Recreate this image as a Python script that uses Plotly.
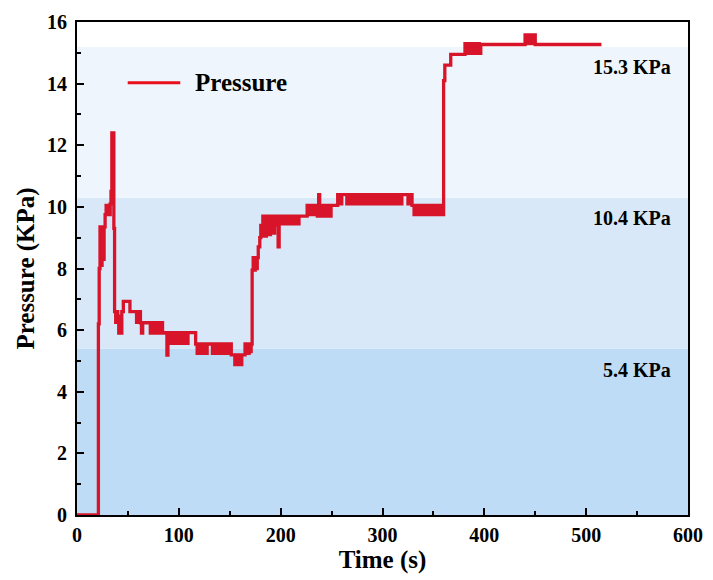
import plotly.graph_objects as go

# ---- data (time in s, pressure in KPa), step signal ----
time_s = [0, 21, 21.8, 22.6, 23.6, 24.6, 25.6, 26.6, 27.6, 28.6, 29.6, 30.6, 31.6, 32.6, 33.4, 34.2,
          36.2, 36.9, 38, 39, 40, 41, 42, 43, 44, 45.5, 52, 58.5, 59.5, 60.5, 61.5, 62.3, 63.3, 64.5,
          72, 74, 76, 78, 80, 82, 84, 86, 88.3, 89.3, 91, 93, 95, 97, 99, 101, 103, 105, 107, 109,
          116.5, 118, 119.5, 120.5, 122, 123, 124.5, 127, 127.8, 133, 134.5, 135.5, 136.5, 139, 140.5,
          141.5, 142.5, 144, 145.5, 146.5, 148, 149, 150.5, 151.5, 155, 156, 157.5, 159, 160.5, 161.8,
          165, 166, 167, 168, 169, 170, 171, 172, 173, 174, 175, 176, 177, 178, 179.5, 180.5, 181.5,
          182.5, 184, 186, 188, 190, 192, 194, 196, 197.5, 198.5, 200, 202, 204, 206, 208, 210, 212,
          214, 216, 218, 226, 228, 230, 232, 234, 236, 237.3, 238.3, 239.5, 241.5, 243.5, 245.5, 247.5,
          249.5, 256, 258, 260, 265, 267, 269, 271, 273, 275, 277, 279, 281, 283, 285, 287, 289, 291,
          293, 295, 297, 299, 301, 303, 305, 307, 309, 311, 313, 315, 317, 319, 325, 327, 329, 331,
          333, 335, 337, 339, 341, 343, 345, 347, 349, 351, 353, 355, 357, 359, 360, 361.2, 367, 381,
          383, 385, 387, 389, 391, 393, 395, 396.5, 440, 441.5, 443, 444.5, 446, 447.5, 449, 450, 515]
pressure = [0, 6.2, 8.0, 9.35, 8.1, 9.35, 8.3, 9.35, 9.75, 10.05, 9.75, 10.05, 9.75, 10.1, 10.5, 12.4,
            9.3, 6.6, 6.25, 6.6, 6.3, 5.9, 6.45, 5.9, 6.6, 6.93, 6.6, 6.25, 6.6, 6.25, 6.6, 6.24, 5.9, 6.24,
            5.9, 6.24, 5.9, 6.24, 5.9, 6.24, 5.9, 5.92, 5.19, 5.92, 5.57, 5.92, 5.57, 5.92, 5.57, 5.92, 5.57, 5.92, 5.57, 5.92,
            5.55, 5.25, 5.55, 5.25, 5.55, 5.25, 5.55, 5.25, 5.55, 5.25, 5.55, 5.25, 5.55, 5.25, 5.55,
            5.25, 5.55, 5.25, 5.55, 5.25, 5.55, 5.25, 5.55, 5.2, 4.88, 5.2, 4.88, 5.2, 4.88, 5.2,
            5.55, 5.25, 5.55, 5.25, 5.55, 5.3, 5.55, 7.95, 8.35, 7.95, 8.35, 8.0, 8.35, 8.7, 9.0, 9.4, 9.05,
            9.7, 9.05, 9.7, 9.1, 9.7, 9.15, 9.7, 9.4, 8.7, 9.7, 9.45, 9.7, 9.45, 9.7, 9.45, 9.7, 9.45,
            9.7, 9.45, 9.7, 10.05, 9.75, 10.05, 9.75, 10.05, 9.7, 10.4, 10.05, 9.7, 10.05, 9.7, 10.05, 9.7,
            10.05, 10.4, 10.1, 10.4, 10.1, 10.4, 10.1, 10.4, 10.1, 10.4, 10.1, 10.4, 10.1, 10.4, 10.1, 10.4, 10.1, 10.4,
            10.1, 10.4, 10.1, 10.4, 10.1, 10.4, 10.1, 10.4, 10.1, 10.4, 10.1, 10.4, 10.1, 10.4, 10.1, 10.4, 10.05, 9.75,
            10.05, 9.75, 10.05, 9.75, 10.05, 9.75, 10.05, 9.75, 10.05, 9.75, 10.05, 9.75, 10.05, 9.75, 14.1, 14.6, 14.95, 15.3,
            14.98, 15.3, 14.98, 15.3, 14.98, 15.3, 14.98, 15.27, 15.58, 15.3, 15.58, 15.3, 15.58, 15.3, 15.58, 15.27, 15.27]

band_edges = [0, 5.4, 10.3, 15.2]
band_colors = ["#bedcf6", "#d9e8f8", "#eff5fd"]
band_labels = ["5.4 KPa", "10.4 KPa", "15.3 KPa"]
band_label_y = [4.7, 9.65, 14.55]

x_ticks = [0, 100, 200, 300, 400, 500, 600]
y_ticks = [0, 2, 4, 6, 8, 10, 12, 14, 16]

LINE_COLOR = "#d8142a"
FONT = "Liberation Serif, Times New Roman, serif"

fig = go.Figure()
fig.add_trace(go.Scatter(x=time_s, y=pressure, mode="lines", name="Pressure",
                         line=dict(color=LINE_COLOR, width=3.3, shape="hv"),
                         showlegend=False))

for i in range(3):
    fig.add_shape(type="rect", xref="paper", x0=0, x1=1, yref="y",
                  y0=band_edges[i], y1=band_edges[i + 1],
                  fillcolor=band_colors[i], line_width=0, layer="below")
    fig.add_annotation(xref="paper", x=0.975, yref="y", y=band_label_y[i],
                       text=band_labels[i], showarrow=False, xanchor="right", yanchor="middle",
                       font=dict(family=FONT, size=20, color="black", weight="bold"))

# legend (line + label)
fig.add_shape(type="line", xref="paper", yref="paper", x0=0.083, x1=0.169, y0=0.877, y1=0.877,
              line=dict(color="#e8101a", width=3))
fig.add_annotation(xref="paper", yref="paper", x=0.19, y=0.877, text="Pressure", showarrow=False,
                   xanchor="left", yanchor="middle",
                   font=dict(family=FONT, size=25, color="black", weight="bold"))

axis_common = dict(showline=True, linecolor="black", linewidth=2, mirror=True,
                   ticks="inside", ticklen=7, tickwidth=2, tickcolor="black",
                   showgrid=False, zeroline=False, automargin=False,
                   tickfont=dict(family=FONT, size=20, color="black", weight="bold"),
                   title_font=dict(family=FONT, size=25, color="black", weight="bold"))

fig.update_xaxes(range=[0, 600], tickvals=x_ticks, title_text="Time (s)", title_standoff=2,
                 minor=dict(ticks="inside", ticklen=4, tickwidth=2, tickcolor="black", dtick=50),
                 ticklabelstandoff=1, **axis_common)
fig.update_yaxes(range=[0, 16], tickvals=y_ticks, title_text="Pressure (KPa)", title_standoff=5,
                 minor=dict(ticks="inside", ticklen=4, tickwidth=2, tickcolor="black", dtick=1),
                 ticklabelstandoff=4, **axis_common)

fig.update_layout(width=713, height=580, margin=dict(l=77, r=25, t=22, b=65),
                  paper_bgcolor="white", plot_bgcolor="white", showlegend=False)

fig.write_html("out.html")
